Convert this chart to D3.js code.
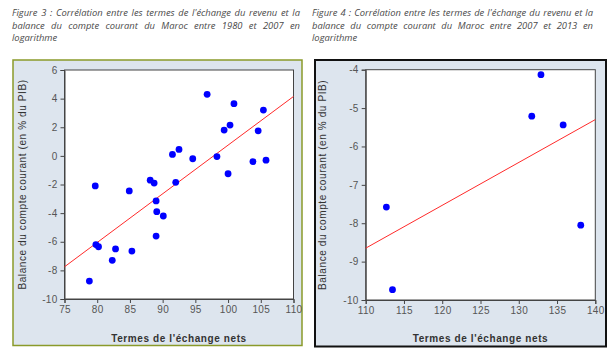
<!DOCTYPE html>
<html>
<head>
<meta charset="utf-8">
<script src="https://cdn.jsdelivr.net/npm/d3@7"></script>
<style>
  html, body { margin: 0; padding: 0; background: #ffffff; }
  body { width: 613px; height: 356px; position: relative; overflow: hidden; }
  .cap { position: absolute; font-family: "Open Sans", Lato, sans-serif; font-style: italic;
         font-size: 9.4px; line-height: 12.6px; color: #4a4a4a; text-align: justify; }
  svg { position: absolute; left: 0; top: 0; }
</style>
</head>
<body>
<div class="cap" id="cap1" style="left:12px; top:7px; width:288px;"></div>
<div class="cap" id="cap2" style="left:312px; top:7px; width:281px;"></div>
<svg id="chart" width="613" height="356"></svg>
<script>
// ---- Data ----
const caption1 = "Figure 3 : Corrélation entre les termes de l'échange du revenu et la balance du compte courant du Maroc entre 1980 et 2007 en logarithme";
const caption2 = "Figure 4 : Corrélation entre les termes de l'échange du revenu et la balance du compte courant du Maroc entre 2007 et 2013 en logarithme";
const xTitle = "Termes de l'échange nets";
const yTitle = "Balance du compte courant (en % du PIB)";

// Figure 3 (1980-2007)
const tot1 = [78.8, 79.7, 79.8, 80.2, 82.3, 82.8, 84.9, 85.3, 88.1, 88.7, 89.0, 89.1, 89.0, 90.1,
              91.5, 92.0, 92.5, 94.6, 96.8, 98.3, 99.4, 100.0, 100.3, 100.9, 103.8, 104.6, 105.4, 105.8];
const cab1 = [-8.75, -2.1, -6.2, -6.35, -7.3, -6.5, -2.45, -6.65, -1.7, -1.9, -3.15, -3.9, -5.6, -4.2,
              0.1, -1.85, 0.45, -0.2, 4.3, -0.05, 1.8, -1.25, 2.15, 3.65, -0.4, 1.75, 3.2, -0.3];
const fit1X = [75, 110];
const fit1Y = [-7.75, 4.15];
const xTicks1 = [75, 80, 85, 90, 95, 100, 105, 110];
const yTicks1 = [6, 4, 2, 0, -2, -4, -6, -8, -10];

// Figure 4 (2007-2013)
const tot2 = [112.7, 113.5, 131.7, 132.9, 135.8, 138.1];
const cab2 = [-7.58, -9.73, -5.21, -4.13, -5.44, -8.05];
const fit2X = [110, 140];
const fit2Y = [-8.65, -5.3];
const xTicks2 = [110, 115, 120, 125, 130, 135, 140];
const yTicks2 = [-4, -5, -6, -7, -8, -9, -10];

d3.select("#cap1").text(caption1);
d3.select("#cap2").text(caption2);

const svg = d3.select("#chart");
const fontAxis = "'Liberation Sans', Arial, sans-serif";

function panel(cfg) {
  const g = svg.append("g");
  // panel frame
  g.append("rect")
    .attr("x", cfg.frame[0]).attr("y", cfg.frame[1])
    .attr("width", cfg.frame[2]).attr("height", cfg.frame[3])
    .attr("fill", "#dde5ee").attr("stroke", cfg.frameColor).attr("stroke-width", cfg.frameWidth);

  const x = d3.scaleLinear().domain(cfg.xDomain).range([cfg.plot[0], cfg.plot[0] + cfg.plot[2]]);
  const y = d3.scaleLinear().domain(cfg.yDomain).range([cfg.plot[1] + cfg.plot[3], cfg.plot[1]]);

  g.append("rect")
    .attr("x", cfg.plot[0]).attr("y", cfg.plot[1])
    .attr("width", cfg.plot[2]).attr("height", cfg.plot[3])
    .attr("fill", "#ffffff").attr("stroke", "#444").attr("stroke-width", 1);

  const xa = g.append("g").attr("transform", `translate(0,${cfg.plot[1] + cfg.plot[3]})`)
    .call(d3.axisBottom(x).tickValues(cfg.xTicks).tickSize(4).tickPadding(3).tickFormat(d3.format("d")));
  const ya = g.append("g").attr("transform", `translate(${cfg.plot[0]},0)`)
    .call(d3.axisLeft(y).tickValues(cfg.yTicks).tickSize(4).tickPadding(3)
      .tickFormat(d => d < 0 ? "-" + Math.abs(d) : String(d)));
  [xa, ya].forEach(a => {
    a.select(".domain").attr("stroke", "#444");
    a.selectAll(".tick line").attr("stroke", "#444");
    a.selectAll(".tick text").attr("fill", "#555").attr("font-family", fontAxis)
      .attr("font-size", "10px").attr("letter-spacing", "0.3px");
  });

  // regression line
  const line = d3.line().x(d => x(d[0])).y(d => y(d[1]));
  g.append("path")
    .datum(cfg.fitX.map((v, i) => [v, cfg.fitY[i]]))
    .attr("d", line).attr("fill", "none").attr("stroke", "#ff2a2a").attr("stroke-width", 1);

  // points
  g.selectAll("circle.pt").data(cfg.xs.map((v, i) => [v, cfg.ys[i]])).enter()
    .append("circle").attr("class", "pt")
    .attr("cx", d => x(d[0])).attr("cy", d => y(d[1])).attr("r", 3.4)
    .attr("fill", "#0000ff");

  // titles
  g.append("text")
    .attr("x", cfg.plot[0] + cfg.plot[2] / 2).attr("y", cfg.xTitleY)
    .attr("text-anchor", "middle").attr("font-family", fontAxis).attr("font-size", "10px")
    .attr("font-weight", "bold").attr("letter-spacing", "0.6px").attr("fill", "#333")
    .text(xTitle);
  g.append("text")
    .attr("transform", `translate(${cfg.yTitleX},${cfg.plot[1] + cfg.plot[3] / 2}) rotate(-90)`)
    .attr("text-anchor", "middle").attr("font-family", fontAxis).attr("font-size", "10px")
    .attr("letter-spacing", "0.6px").attr("fill", "#333")
    .text(yTitle);
}

panel({
  frame: [13, 60, 289, 285.5], frameColor: "#8a9a2a", frameWidth: 1.5,
  plot: [64.5, 70, 229, 229],
  xDomain: [75, 110], yDomain: [-10, 6],
  xTicks: xTicks1, yTicks: yTicks1,
  xs: tot1, ys: cab1, fitX: fit1X, fitY: fit1Y,
  xTitleY: 342, yTitleX: 26
});

panel({
  frame: [315, 60, 291, 286.5], frameColor: "#111", frameWidth: 2,
  plot: [365.7, 69.7, 229.6, 230.3],
  xDomain: [110, 140], yDomain: [-10, -4],
  xTicks: xTicks2, yTicks: yTicks2,
  xs: tot2, ys: cab2, fitX: fit2X, fitY: fit2Y,
  xTitleY: 342, yTitleX: 326
});
</script>
</body>
</html>
